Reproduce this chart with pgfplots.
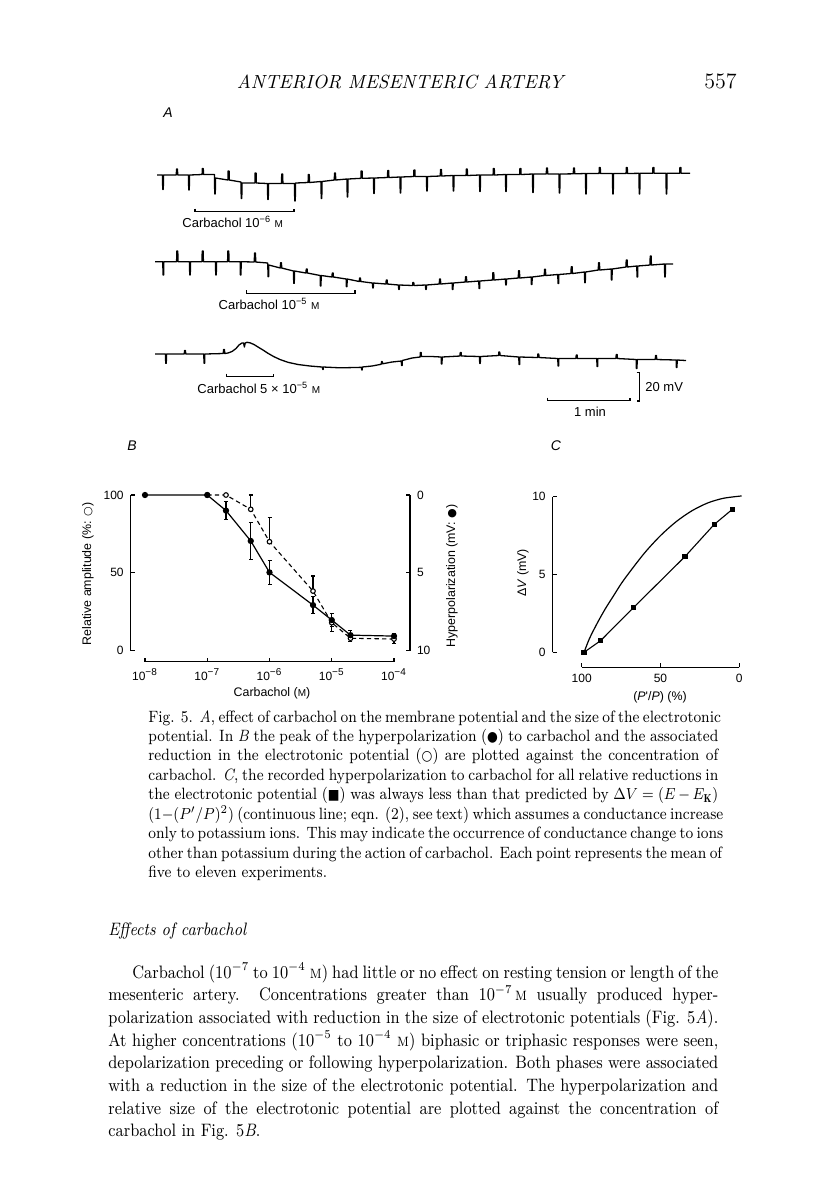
\documentclass[border=0pt]{standalone}
\usepackage{fontspec}
\usepackage{graphicx}
\usepackage{pgfplots}
\pgfplotsset{compat=1.18}
\newfontfamily\figsans{Liberation Sans}
\newfontfamily\dejavu{DejaVu Sans}

\newcommand\smM{{\fontsize{5}{5}\selectfont M}}
\newcommand\figfont{\figsans\fontsize{6.5}{7.5}\selectfont}
\newcommand\lblfont{\figsans\fontsize{6.2}{7.2}\selectfont}
\newcommand\capfont{\fontsize{8.2}{9.7}\selectfont}
\newcommand\bodyfont{\fontsize{9}{11.35}\selectfont}
% one justified line of caption / body text, anchored at its baseline
\newcommand\capline[3]{\node[anchor=base west,inner sep=0pt] at (#1,#2) {\capfont\scalebox{0.885}[1]{\makebox[322pt][s]{#3}}};}
\newcommand\capend[3]{\node[anchor=base west,inner sep=0pt] at (#1,#2) {\capfont\scalebox{0.885}[1]{#3}};}
\newcommand\bodyline[4]{\node[anchor=base west,inner sep=0pt] at (#1,#2) {\bodyfont\scalebox{0.885}[1]{\makebox[#3][s]{#4}}};}
\newcommand\bodyend[3]{\node[anchor=base west,inner sep=0pt] at (#1,#2) {\bodyfont\scalebox{0.885}[1]{#3}};}

\pgfplotsset{
  figaxis/.style={
    scale only axis, clip=false,
    tick align=inside, major tick length=2pt,
    axis line style={line width=0.6pt, black},
    tick style={line width=0.6pt, black},
    tick label style={font=\figsans\fontsize{6}{7}\selectfont, black},
    /pgf/number format/assume math mode=true,
  },
}

\begin{document}
\begin{tikzpicture}
\path[use as bounding box] (0pt,0pt) rectangle (408pt,-595.5pt);
\fill[white] (0pt,0pt) rectangle (408pt,-595.5pt);

% ---------------- A: membrane potential traces (page pixel coords) ----------------
\begin{axis}[at={(0pt,0pt)}, anchor=north west, scale only axis,
  width=408pt, height=595.5pt, xmin=0, xmax=816, ymin=0, ymax=1191,
  y dir=reverse, axis lines=none, clip=false]
% trace 1: carbachol 1e-6 M
\addplot[black, line width=0.65pt, line join=round] coordinates {
(157,175)
(162.5,175) (162.7,189.5) (163.3,189.5) (163.5,175)
(176.3,175) (176.5,169) (177.5,169) (177.7,175)
(188.5,175) (188.7,190) (189.3,190) (189.5,175)
(202.1,174.5) (202.3,168.5) (203.3,168.5) (203.5,174.5)
(214.5,174.5) (214.7,194) (215.3,194) (215.5,178)
(227.9,180) (228.1,171) (229.1,171) (229.3,180)
(241,182) (241.2,198.5) (241.8,198.5) (242,183)
(254.9,183) (255.1,173) (256.1,173) (256.3,183)
(267.5,183.5) (267.7,199.5) (268.3,199.5) (268.5,183.5)
(281.5,183.5) (281.7,174) (282.7,174) (282.9,183.5)
(294.5,183.5) (294.7,201) (295.3,201) (295.5,183)
(308.1,182.5) (308.3,174.5) (309.3,174.5) (309.5,182.5)
(321,181.5) (321.2,198.5) (321.8,198.5) (322,181.5)
(334.3,180) (334.5,173) (335.5,173) (335.7,180)
(347,179) (347.2,197) (347.8,197) (348,179)
(360.9,178.3) (361.1,171) (362.1,171) (362.3,178.3)
(373.5,178) (373.7,193.5) (374.3,193.5) (374.5,178)
(387.5,177.5) (387.7,170.5) (388.7,170.5) (388.9,177.5)
(400,177) (400.2,193) (400.8,193) (401,177)
(413.7,176.5) (413.9,170) (414.9,170) (415.1,176.5)
(426.5,176.5) (426.7,191) (427.3,191) (427.5,176.5)
(440.3,176) (440.5,169.5) (441.5,169.5) (441.7,176)
(453,175.5) (453.2,191) (453.8,191) (454,175.5)
(466.1,175.5) (466.3,169) (467.3,169) (467.5,175.5)
(479.5,175) (479.7,191.5) (480.3,191.5) (480.5,175)
(493.1,175) (493.3,168.5) (494.3,168.5) (494.5,175)
(505.5,174.5) (505.7,191.5) (506.3,191.5) (506.5,174.5)
(519.7,174.5) (519.9,168.5) (520.9,168.5) (521.1,174.5)
(532.5,174) (532.7,192.5) (533.3,192.5) (533.5,174)
(546.3,174) (546.5,168) (547.5,168) (547.7,174)
(559,174) (559.2,193) (559.8,193) (560,174)
(573.3,173.8) (573.5,168) (574.5,168) (574.7,173.8)
(585.5,173.5) (585.7,194) (586.3,194) (586.5,173.5)
(599.1,173.5) (599.3,167.5) (600.3,167.5) (600.5,173.5)
(612.5,173.5) (612.7,194) (613.3,194) (613.5,173.5)
(626.1,173.5) (626.3,167.5) (627.3,167.5) (627.5,173.5)
(639,173.3) (639.2,194) (639.8,194) (640,173.3)
(652.7,173.3) (652.9,167.5) (653.9,167.5) (654.1,173.3)
(666,173.3) (666.2,194) (666.8,194) (667,173.3)
(679.7,173.3) (679.9,167.5) (680.9,167.5) (681.1,173.3)
(690,173.3)
};
% trace 2: carbachol 1e-5 M
\addplot[black, line width=0.65pt, line join=round] coordinates {
(155,261.7)
(162.8,261.7) (163,275) (163.6,275) (163.8,261.7)
(176.6,261.7) (176.8,251) (177.8,251) (178,261.7)
(189.5,261.7) (189.7,275) (190.3,275) (190.5,261.7)
(202,261.7) (202.2,251) (203.2,251) (203.4,261.7)
(215.5,261.7) (215.7,275) (216.3,275) (216.5,261.7)
(227.6,261.7) (227.8,251) (228.8,251) (229,261.7)
(240.2,261.7) (240.4,275) (241,275) (241.2,261.7)
(254.3,262) (254.5,253) (255.5,253) (255.7,262)
(267.8,263) (268,276.7) (268.6,276.7) (268.8,265)
(280.3,268) (280.5,262.7) (281.5,262.7) (281.7,268)
(293.5,271) (293.7,283.3) (294.3,283.3) (294.5,271)
(306,273) (306.2,269) (307.2,269) (307.4,273)
(320.2,275.5) (320.4,286) (321,286) (321.2,275.5)
(332,277) (332.2,273) (333.2,273) (333.4,277)
(346.2,279) (346.4,286.7) (347,286.7) (347.2,279)
(359.3,281.5) (359.5,278) (360.5,278) (360.7,281.5)
(372.5,283) (372.7,288) (373.3,288) (373.5,283)
(386,284) (386.2,280) (387.2,280) (387.4,284)
(398.5,285) (398.7,289.5) (399.3,289.5) (399.5,285)
(412.6,285.5) (412.8,282.5) (413.8,282.5) (414,285.5)
(425.5,285) (425.7,289.5) (426.3,289.5) (426.5,285)
(439.3,284) (439.5,279) (440.5,279) (440.7,284)
(452.2,283) (452.4,289.5) (453,289.5) (453.2,283)
(465.3,282) (465.5,276.7) (466.5,276.7) (466.7,282)
(478.8,281) (479,288.5) (479.6,288.5) (479.8,281)
(492.6,280) (492.8,272.7) (493.8,272.7) (494,280)
(505.5,279) (505.7,285) (506.3,285) (506.5,279)
(518.3,278) (518.5,270.7) (519.5,270.7) (519.7,278)
(531.2,277) (531.4,284.5) (532,284.5) (532.2,277)
(544.3,275.5) (544.5,269.3) (545.5,269.3) (545.7,275.5)
(557.8,274.5) (558,283.5) (558.6,283.5) (558.8,274.5)
(571,273.5) (571.2,266.7) (572.2,266.7) (572.4,273.5)
(584.5,272) (584.7,282.7) (585.3,282.7) (585.5,272)
(598.3,270) (598.5,262.7) (599.5,262.7) (599.7,270)
(611.2,269) (611.4,280) (612,280) (612.2,269)
(626,267) (626.2,260) (627.2,260) (627.4,267)
(636.8,266) (637,277) (637.6,277) (637.8,266)
(650,265) (650.2,256) (651.2,256) (651.4,265)
(664.5,264) (664.7,277) (665.3,277) (665.5,264)
(673,264)
};
% trace 3: carbachol 5e-5 M
\addplot[black, line width=0.65pt, line join=round] coordinates {
(155,354)
(165.5,354) (165.7,363.3) (166.3,363.3) (166.5,354)
(184.3,354) (184.5,350.5) (185.5,350.5) (185.7,354)
(203.8,354) (204,363.3) (204.6,363.3) (204.8,354)
(223.3,353.5) (223.5,349.5) (224.5,349.5) (224.7,353.5)
(228,353) (232,351.5) (236,348.5) (239,345) (242,343) (243.6,343)
(244.4,347) (245.2,343) (247,342.3) (250,342.8) (254,344.5) (258,347)
(263,350) (268,353.3) (274,356.7) (280,359.5) (288,362.3) (298,364.5)
(310,366) (322,367)
(322.5,367) (322.7,369.5) (323.1,369.5) (323.3,367)
(340,367.8) (355,367.5)
(361.5,367.3) (361.7,370) (362.1,370) (362.3,367)
(372,366) (381,364.3)
(381.3,364) (381.5,361.5) (382.3,361.5) (382.5,363.8)
(392,362)
(401.3,361) (401.5,365.5) (402.1,365.5) (402.3,360.5)
(412,358)
(420.1,357) (420.3,352.5) (421.2,352.5) (421.4,356.5)
(432,356.5)
(441.2,357) (441.4,364) (442,364) (442.2,357)
(460,356) (460.2,352.5) (461.2,352.5) (461.4,356)
(479.5,356.5) (479.7,363.5) (480.3,363.5) (480.5,356.5)
(498.6,355.5) (498.8,352) (499.8,352) (500,355.5)
(518.8,357) (519,364.5) (519.6,364.5) (519.8,357)
(537.6,357.5) (537.8,354) (538.8,354) (539,357.5)
(557.8,358.5) (558,366) (558.6,366) (558.8,358.5)
(576,358.5) (576.2,355) (577.2,355) (577.4,358.5)
(596.8,358.5) (597,366.5) (597.6,366.5) (597.8,358.5)
(616,358.5) (616.2,354.5) (617.2,354.5) (617.4,358.5)
(636.2,359.5) (636.4,368.5) (637,368.5) (637.2,359.5)
(655.3,359.5) (655.5,355.5) (656.5,355.5) (656.7,359.5)
(676.2,360) (676.4,367.5) (677,367.5) (677.2,360)
(686,360.5)
};
\end{axis}

% ---------------- B: concentration-response ----------------
\begin{axis}[figaxis,
  at={(72.5pt,-325.35pt)}, anchor=south west,
  width=124.5pt, height=77.85pt,
  xmode=log, xmin=1e-8, xmax=1e-4, ymin=0, ymax=100,
  axis x line*=bottom, axis y line*=left,
  axis x line shift=5.5pt, axis y line shift=7.15pt,
  xtick={1e-8,1e-7,1e-6,1e-5,1e-4},
  xticklabels={10\textsuperscript{−8},10\textsuperscript{−7},10\textsuperscript{−6},10\textsuperscript{−5},10\textsuperscript{−4}},
  xminorticks=false,
  ytick={0,50,100},
]
% relative amplitude of electrotonic potential (open circles, dashed)
\addplot[black, line width=0.55pt, dash pattern=on 2.2pt off 1.6pt,
  mark=*, mark size=1.15pt, mark options={solid, fill=white, line width=0.55pt},
  error bars/.cd, y dir=both, y explicit,
  error bar style={solid, line width=0.55pt},
  error mark options={rotate=90, mark size=1pt, line width=0.55pt}]
  table[x=x, y=y, y error plus=ep, y error minus=em] {
x     y     ep    em
1e-7  100   0     0
2e-7  100   0     0
5e-7  90.8  9.2   0
1e-6  70    15.5  0
5e-6  38.3  9.7   0
1e-5  18    0     5.8
2e-5  8     0     2.1
1e-4  7.5   0     2.8
};
% hyperpolarization (filled circles, solid)
\addplot[black, line width=0.6pt,
  mark=*, mark size=1.25pt, mark options={solid, fill=black},
  error bars/.cd, y dir=both, y explicit,
  error bar style={solid, line width=0.55pt},
  error mark options={rotate=90, mark size=1pt, line width=0.55pt}]
  table[x=x, y=y, y error plus=ep, y error minus=em] {
x     y     ep    em
1e-8  100   0     0
1e-7  100   0     0
2e-7  90    6     6
5e-7  70.5  12    12
1e-6  50.3  7.5   7.5
5e-6  29.3  5.4   5.4
1e-5  19.7  4.3   4.3
2e-5  10    2.8   2.8
1e-4  9.4   1.5   1.5
};
\end{axis}
% right-hand hyperpolarization scale
\begin{axis}[figaxis,
  at={(72.5pt,-325.35pt)}, anchor=south west,
  width=124.5pt, height=77.85pt,
  xmin=0, xmax=1, ymin=0, ymax=10, y dir=reverse,
  axis x line=none, axis y line*=right, axis y line shift=8pt,
  ytick={0,5,10},
]
\end{axis}

% ---------------- C: hyperpolarization vs relative electrotonic potential ----------------
\begin{axis}[figaxis,
  at={(290.85pt,-326.15pt)}, anchor=south west,
  width=78.8pt, height=77.8pt,
  xmin=0, xmax=100, x dir=reverse, ymin=0, ymax=10,
  axis x line*=bottom, axis y line*=left,
  axis x line shift=7.5pt, axis y line shift=14.5pt,
  xtick={0,50,100}, ytick={0,5,10},
]
\addplot[black, line width=0.6pt, smooth] coordinates {
(98.5,0) (95,0.9) (90,1.9) (85,2.8) (80,3.6) (75,4.4) (70,5.1) (60,6.4)
(50,7.5) (40,8.4) (30,9.1) (20,9.6) (10,9.9) (-1.5,10.05)
};
\addplot[black, line width=0.55pt, mark=square*, mark size=1.05pt] coordinates {
(98.5,0) (88,0.75) (67.2,2.87) (34.5,6.15) (15.9,8.22) (4.4,9.19)
};
\end{axis}

% ---------------- text, bars and labels (page pixel coords) ----------------
\begin{scope}[x=0.5pt, y=-0.5pt]
% running head
\node[anchor=base, inner sep=0pt] at (400,88) {\fontsize{9.5}{11}\selectfont\itshape ANTERIOR MESENTERIC ARTERY};
\node[anchor=base east, inner sep=0pt] at (737,88) {\fontsize{11}{13}\selectfont 557};

% panel letters
\node[inner sep=0pt] at (168,113) {\figsans\fontsize{7}{8}\selectfont\itshape A};
\node[inner sep=0pt] at (132,446) {\figsans\fontsize{7}{8}\selectfont\itshape B};
\node[inner sep=0pt] at (556,446) {\figsans\fontsize{7}{8}\selectfont\itshape C};

% drug application bars
\draw[line width=0.6pt] (195,208.7) -- (195,211.7) -- (294,211.7) -- (294,208.7);
\node[anchor=west, inner sep=0pt] at (182,222) {\figfont Carbachol 10\textsuperscript{−6} \smM};
\draw[line width=0.6pt] (246.7,290.3) -- (246.7,293.3) -- (355,293.3) -- (355,290.3);
\node[anchor=west, inner sep=0pt] at (218.3,304) {\figfont Carbachol 10\textsuperscript{−5} \smM};
\draw[line width=0.6pt] (226.7,373.7) -- (226.7,376.7) -- (273.3,376.7) -- (273.3,373.7);
\node[anchor=west, inner sep=0pt] at (197,388) {\figfont Carbachol 5 × 10\textsuperscript{−5} \smM};

% calibration
\draw[line width=0.6pt] (636.5,372.7) -- (639.3,372.7) -- (639.3,401) -- (636.5,401);
\node[anchor=west, inner sep=0pt] at (645,387) {\figfont 20 mV};
\draw[line width=0.6pt] (547.3,397.7) -- (547.3,400.7) -- (630,400.7) -- (630,397.7);
\node[inner sep=0pt] at (590,412) {\figfont 1 min};

% axis titles of B and C
\node[rotate=90, inner sep=0pt] at (88,574) {\lblfont Relative amplitude (\%: {\dejavu\fontsize{5.5}{6}\selectfont ○})};
\node[rotate=90, inner sep=0pt] at (452,576) {\lblfont Hyperpolarization (mV: {\dejavu\fontsize{5.5}{6}\selectfont ●})};
\node[inner sep=0pt] at (272,693) {\lblfont Carbachol (\smM)};
\node[rotate=90, inner sep=0pt] at (523,573) {\lblfont Δ\textit{V} (mV)};
\node[inner sep=0pt] at (660,697) {\lblfont (\textit{P}'/\textit{P}) (\%)};

% caption
\capline{148}{722}{Fig. 5. \textit{A}, effect of carbachol on the membrane potential and the size of the electrotonic}
\capline{148}{741.45}{potential. In \textit{B} the peak of the hyperpolarization ({\dejavu\fontsize{7}{7}\selectfont ●}) to carbachol and the associated}
\capline{148}{760.9}{reduction in the electrotonic potential ({\dejavu\fontsize{7}{7}\selectfont ○}) are plotted against the concentration of}
\capline{148}{780.35}{carbachol. \textit{C}, the recorded hyperpolarization to carbachol for all relative reductions in}
\capline{148}{799.8}{the electrotonic potential ({\dejavu\fontsize{7}{7}\selectfont ■}) was always less than that predicted by $\Delta V=(E-E_{\mathbf{K}})$}
\capline{148}{819.25}{$(1-(P'/P)^2)$ (continuous line; eqn. (2), see text) which assumes a conductance increase}
\capline{148}{838.7}{only to potassium ions. This may indicate the occurrence of conductance change to ions}
\capline{148}{858.15}{other than potassium during the action of carbachol. Each point represents the mean of}
\capend{148}{877.6}{five to eleven experiments.}

% body text
\bodyend{108}{935}{\textit{Effects of carbachol}}
\bodyline{132}{978}{331.1pt}{Carbachol ($10^{-7}$ to $10^{-4}$ \textsc{m}) had little or no effect on resting tension or length of the}
\bodyline{108}{1000.7}{344.6pt}{mesenteric artery. Concentrations greater than $10^{-7}$\,\textsc{m} usually produced hyper-}
\bodyline{108}{1023.4}{344.6pt}{polarization associated with reduction in the size of electrotonic potentials (Fig. 5\textit{A}).}
\bodyline{108}{1046.1}{344.6pt}{At higher concentrations ($10^{-5}$ to $10^{-4}$ \textsc{m}) biphasic or triphasic responses were seen,}
\bodyline{108}{1068.8}{344.6pt}{depolarization preceding or following hyperpolarization. Both phases were associated}
\bodyline{108}{1091.5}{344.6pt}{with a reduction in the size of the electrotonic potential. The hyperpolarization and}
\bodyline{108}{1114.2}{344.6pt}{relative size of the electrotonic potential are plotted against the concentration of}
\bodyend{108}{1136.9}{carbachol in Fig. 5\textit{B}.}
\end{scope}
\end{tikzpicture}
\end{document}
